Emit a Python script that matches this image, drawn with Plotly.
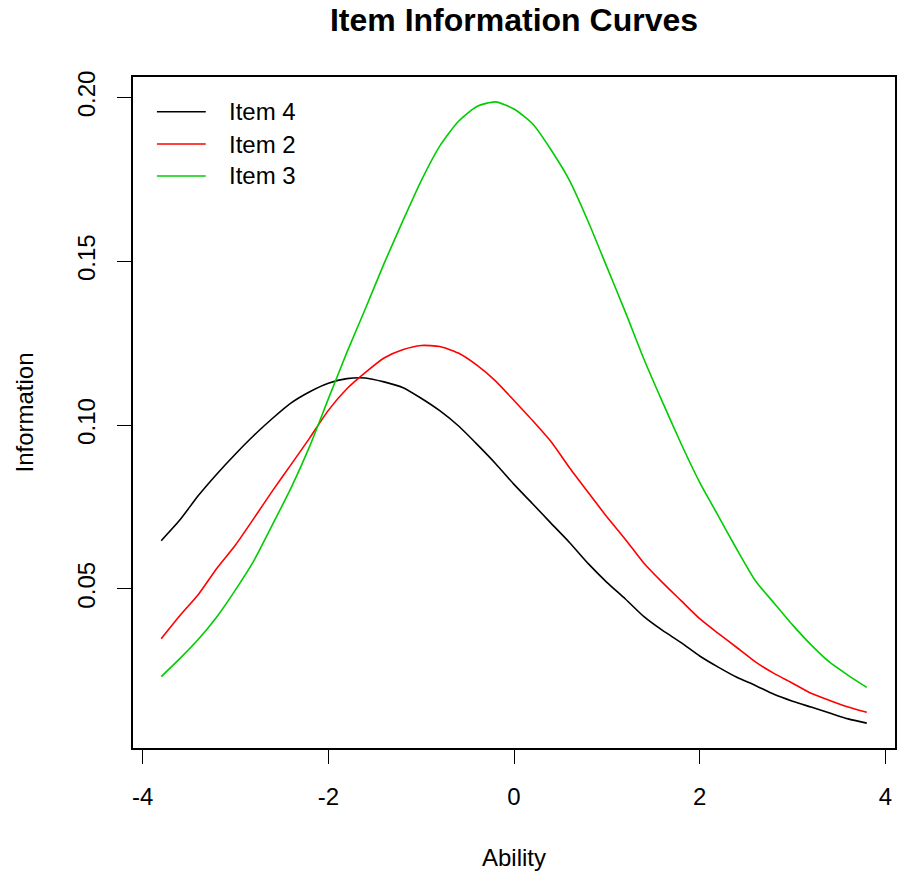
import plotly.graph_objects as go

# ---- data ----
ability = [-3.8, -3.6, -3.4, -3.2, -3.0, -2.8, -2.6, -2.4, -2.2, -2.0,
           -1.8, -1.6, -1.4, -1.2, -1.0, -0.8, -0.6, -0.4, -0.2, 0.0,
           0.2, 0.4, 0.6, 0.8, 1.0, 1.2, 1.4, 1.6, 1.8, 2.0,
           2.2, 2.4, 2.6, 2.8, 3.0, 3.2, 3.4, 3.6, 3.8]

item4 = [0.0647, 0.0710, 0.0785, 0.0851, 0.0912, 0.0969, 0.1021, 0.1068, 0.1102, 0.1128,
         0.1142, 0.1144, 0.1132, 0.1115, 0.1082, 0.1044, 0.0998, 0.0942, 0.0883, 0.0819,
         0.0760, 0.0700, 0.0641, 0.0577, 0.0520, 0.0469, 0.0415, 0.0373, 0.0336, 0.0295,
         0.0261, 0.0230, 0.0205, 0.0178, 0.0157, 0.0139, 0.0121, 0.0103, 0.0090]

item2 = [0.0348, 0.0418, 0.0483, 0.0563, 0.0634, 0.0716, 0.0800, 0.0880, 0.0961, 0.1045,
         0.1111, 0.1161, 0.1205, 0.1230, 0.1243, 0.1240, 0.1220, 0.1183, 0.1135, 0.1075,
         0.1014, 0.0949, 0.0869, 0.0794, 0.0720, 0.0651, 0.0578, 0.0519, 0.0464, 0.0409,
         0.0364, 0.0321, 0.0277, 0.0242, 0.0212, 0.0181, 0.0159, 0.0139, 0.0123]

item3 = [0.0232, 0.0287, 0.0346, 0.0415, 0.0497, 0.0587, 0.0697, 0.0809, 0.0936, 0.1080,
         0.1222, 0.1356, 0.1493, 0.1622, 0.1746, 0.1852, 0.1927, 0.1973, 0.1987, 0.1965,
         0.1920, 0.1840, 0.1746, 0.1621, 0.1483, 0.1345, 0.1201, 0.1070, 0.0943, 0.0825,
         0.0723, 0.0621, 0.0525, 0.0457, 0.0390, 0.0329, 0.0276, 0.0236, 0.0199]

series_names = ["Item 4", "Item 2", "Item 3"]
series_colors = ["#000000", "#FF0000", "#00CD00"]
series_values = [item4, item2, item3]

x_ticks = [-4, -2, 0, 2, 4]
x_tick_labels = ["-4", "-2", "0", "2", "4"]
y_ticks = [0.05, 0.10, 0.15, 0.20]
y_tick_labels = ["0.05", "0.10", "0.15", "0.20"]

FONT = "Liberation Sans, Arial, sans-serif"

fig = go.Figure()
for name, col, vals in zip(series_names, series_colors, series_values):
    fig.add_trace(go.Scatter(x=ability, y=vals, mode="lines", name=name,
                             line=dict(color=col, width=1.6, shape="spline", smoothing=0.6),
                             showlegend=False))

# R-style 4% axis extension
xmin, xmax = min(ability), max(ability)
allv = item4 + item2 + item3
ymin, ymax = min(allv), max(allv)
xpad = 0.04 * (xmax - xmin)
ypad = 0.04 * (ymax - ymin)

# manual R-style legend (line samples + labels) in paper coordinates
leg_y = [0.9483, 0.9001, 0.8525]
for name, col, yy in zip(series_names, series_colors, leg_y):
    fig.add_shape(type="line", xref="paper", yref="paper", x0=0.0314, x1=0.0955,
                  y0=yy, y1=yy, line=dict(color=col, width=1.6))
    fig.add_annotation(xref="paper", yref="paper", x=0.1230, y=yy, text=name,
                       showarrow=False, xanchor="left", yanchor="middle",
                       font=dict(family=FONT, size=24, color="black"))

fig.update_layout(
    width=901, height=876,
    margin=dict(l=133, r=4, t=77, b=128),
    paper_bgcolor="white", plot_bgcolor="white",
    title=dict(text="<b>Item Information Curves</b>", x=514 / 901, xanchor="center",
               y=1 - 20 / 876, yanchor="middle", yref="container",
               font=dict(family=FONT, size=32, color="black")),
    font=dict(family=FONT, size=24, color="black"),
)

fig.update_xaxes(range=[xmin - xpad, xmax + xpad], showgrid=False, zeroline=False,
                 showline=True, mirror=True, linecolor="black", linewidth=2,
                 ticks="outside", ticklen=14, tickwidth=1.2, tickcolor="black",
                 tickvals=x_ticks, ticktext=x_tick_labels, ticklabelstandoff=12,
                 tickfont=dict(family=FONT, size=24, color="black"),
                 title=dict(text="Ability", standoff=40,
                            font=dict(family=FONT, size=24, color="black")))

fig.update_yaxes(range=[ymin - ypad, ymax + ypad], showgrid=False, zeroline=False,
                 showline=True, mirror=True, linecolor="black", linewidth=2,
                 ticks="outside", ticklen=14, tickwidth=1.2, tickcolor="black",
                 tickvals=y_ticks, ticktext=y_tick_labels, tickangle=-90,
                 ticklabelstandoff=12,
                 tickfont=dict(family=FONT, size=24, color="black"),
                 title=dict(text="Information", standoff=33,
                            font=dict(family=FONT, size=24, color="black")))

fig.write_html("out.html")
